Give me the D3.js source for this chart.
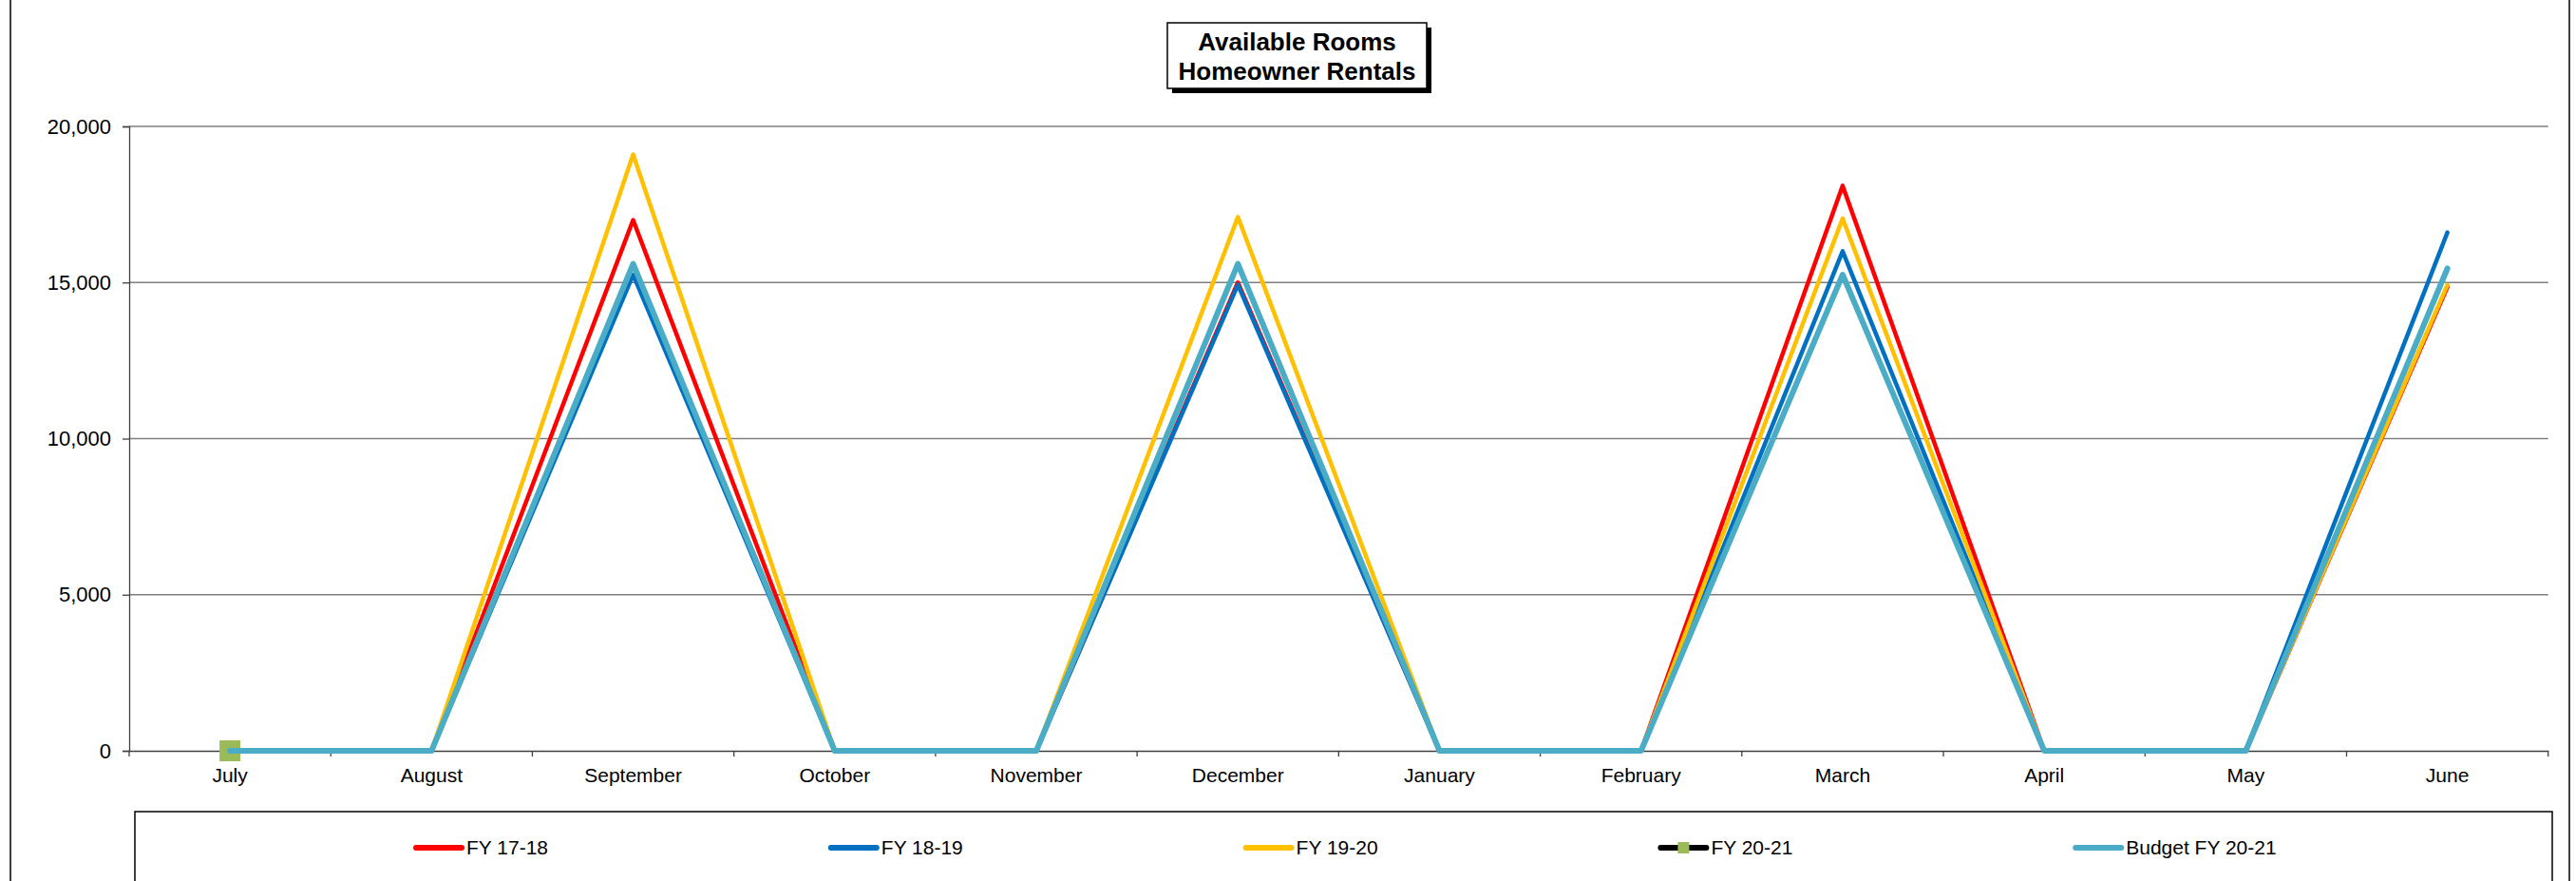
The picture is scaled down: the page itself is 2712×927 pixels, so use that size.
<!DOCTYPE html>
<html>
<head>
<meta charset="utf-8">
<script src="https://cdn.jsdelivr.net/npm/d3@7/dist/d3.min.js"></script>
<style>
  html, body { margin: 0; padding: 0; background: #fff; }
  svg { display: block; font-family: "Liberation Sans", Arial, sans-serif; }
</style>
</head>
<body>
<svg id="chart" width="2712" height="927"></svg>
<script>
const months = ["July","August","September","October","November","December","January","February","March","April","May","June"];
const fy1718 = [0,0,17000,0,0,15000,0,0,18100,0,0,14850];
const fy1819 = [0,0,15250,0,0,14930,0,0,16000,0,0,16600];
const fy1920 = [0,0,19100,0,0,17100,0,0,17050,0,0,14920];
const fy2021 = [0,null,null,null,null,null,null,null,null,null,null,null];
const budget2021 = [0,0,15600,0,0,15600,0,0,15250,0,0,15450];
const yTicks = [0,5000,10000,15000,20000];
const titleLines = ["Available Rooms","Homeowner Rentals"];

const series = [
  {name:"FY 17-18", values:fy1718, color:"#FF0000", width:4.5},
  {name:"FY 18-19", values:fy1819, color:"#0070C0", width:4.5},
  {name:"FY 19-20", values:fy1920, color:"#FFC000", width:4.5},
  {name:"FY 20-21", values:fy2021, color:"#000000", width:4.5, marker:"#9BBB59"},
  {name:"Budget FY 20-21", values:budget2021, color:"#4BACC6", width:6}
];

const svg = d3.select("#chart");
const plotL = 136, plotR = 2682.7, plotT = 133, plotB = 790;

// outer chart border (sides only visible)
svg.append("rect").attr("x",11).attr("y",-5).attr("width",2705-11).attr("height",945)
  .attr("fill","none").attr("stroke","#000").attr("stroke-width",1.5);

const x = d3.scaleBand().domain(months).range([plotL,plotR]).padding(0);
const y = d3.scaleLinear().domain([0,20000]).range([plotB,plotT]);
const cx = m => x(m) + x.bandwidth()/2;

// gridlines
svg.append("g").selectAll("line").data(yTicks.filter(d=>d>0)).join("line")
  .attr("x1",plotL).attr("x2",plotR).attr("y1",d=>y(d)).attr("y2",d=>y(d))
  .attr("stroke","#7f7f7f").attr("stroke-width",1.3);

// y axis
const yAxis = svg.append("g").attr("transform",`translate(${plotL},0)`)
  .call(d3.axisLeft(y).tickValues(yTicks).tickFormat(d3.format(",")).tickSize(7).tickPadding(12));
yAxis.select(".domain").attr("stroke","#404040").attr("stroke-width",1.3);
yAxis.selectAll(".tick line").attr("stroke","#404040").attr("stroke-width",1.3);
yAxis.selectAll(".tick text").attr("font-size",22).attr("fill","#000")
  .attr("font-family","'Liberation Sans', Arial, sans-serif");

// x axis
const xAxis = svg.append("g").attr("transform",`translate(0,${plotB})`)
  .call(d3.axisBottom(x).tickSize(0).tickPadding(18));
xAxis.select(".domain").attr("stroke","#404040").attr("stroke-width",1.3);
xAxis.selectAll(".tick text").attr("font-size",21).attr("fill","#000")
  .attr("font-family","'Liberation Sans', Arial, sans-serif");
const bounds = months.map(m=>x(m)).concat([x(months[months.length-1])+x.bandwidth()]);
svg.append("g").selectAll("line").data(bounds).join("line")
  .attr("x1",d=>d).attr("x2",d=>d).attr("y1",plotB).attr("y2",plotB+6)
  .attr("stroke","#404040").attr("stroke-width",1.3);

// lines
const line = d3.line().defined(d=>d.v!=null).x(d=>cx(d.m)).y(d=>y(d.v));
series.forEach(s=>{
  const pts = months.map((m,i)=>({m, v:s.values[i]}));
  svg.append("path").datum(pts).attr("d",line).attr("fill","none")
    .attr("stroke",s.color).attr("stroke-width",s.width)
    .attr("stroke-linejoin","round").attr("stroke-linecap","round");
  if (s.marker) {
    svg.append("g").selectAll("rect").data(pts.filter(d=>d.v!=null)).join("rect")
      .attr("x",d=>cx(d.m)-11).attr("y",d=>y(d.v)-11).attr("width",22).attr("height",22)
      .attr("fill",s.marker);
  }
});

// title box
const tb = {x:1229, y:24, w:273, h:69};
svg.append("rect").attr("x",tb.x+5).attr("y",tb.y+5).attr("width",tb.w).attr("height",tb.h).attr("fill","#000");
svg.append("rect").attr("x",tb.x).attr("y",tb.y).attr("width",tb.w).attr("height",tb.h)
  .attr("fill","#fff").attr("stroke","#000").attr("stroke-width",1.5);
svg.append("g").selectAll("text").data(titleLines).join("text")
  .attr("x",tb.x+tb.w/2).attr("y",(d,i)=>53+i*31).attr("text-anchor","middle")
  .attr("font-size",26).attr("font-weight","bold").attr("fill","#000").text(d=>d);

// legend box
svg.append("rect").attr("x",142).attr("y",854).attr("width",2687-142).attr("height",120)
  .attr("fill","#fff").attr("stroke","#000").attr("stroke-width",1.5);
const leg = svg.append("g").selectAll("g").data(series).join("g")
  .attr("transform",(d,i)=>`translate(${436+i*436.8},892)`);
leg.append("line").attr("x1",2).attr("x2",50).attr("y1",0).attr("y2",0)
  .attr("stroke",d=>d.color).attr("stroke-width",6).attr("stroke-linecap","round");
leg.filter(d=>d.marker).append("rect").attr("x",20).attr("y",-6).attr("width",12).attr("height",12)
  .attr("fill",d=>d.marker);
leg.append("text").attr("x",55).attr("y",0).attr("dy","0.35em")
  .attr("font-size",21).attr("fill","#000").text(d=>d.name);
</script>
</body>
</html>
